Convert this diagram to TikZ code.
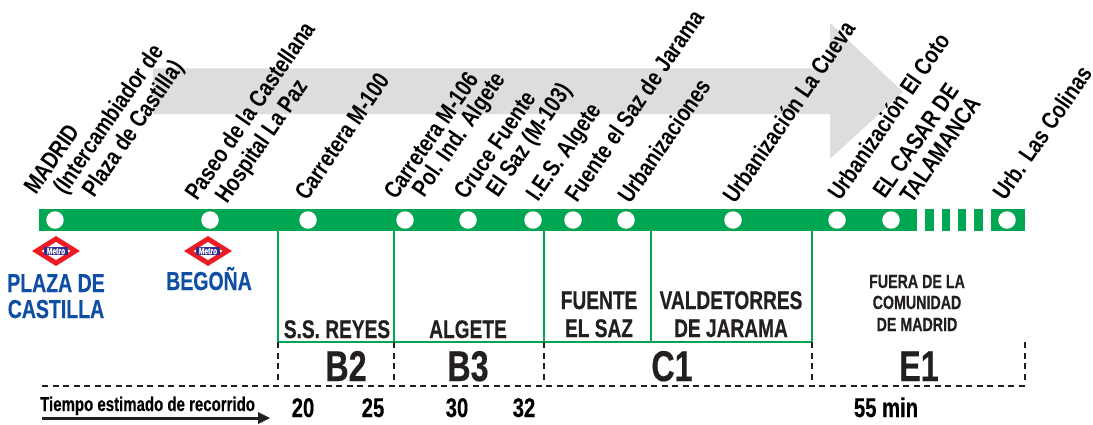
\documentclass[tikz,border=0pt]{standalone}
\usepackage{fontspec}
\setmainfont{Liberation Sans}
\newfontfamily\rotf[FakeStretch=0.81]{Liberation Sans Bold}
\newfontfamily\condf[FakeStretch=0.75,FakeBold=0.4]{Liberation Sans Bold}
\definecolor{lineg}{HTML}{00A651}
\definecolor{arrowg}{HTML}{DCDDDE}
\definecolor{ink}{HTML}{231F20}
\definecolor{stnblue}{HTML}{0F4FA3}
\definecolor{metrored}{HTML}{ED1C24}
\definecolor{metroblue}{HTML}{2E3192}
\tikzset{
  x=1pt,y=-1pt,
  stop/.style={circle,fill=white,draw=none,minimum size=17.5pt,inner sep=0pt},
  lbl/.style={anchor=base west,rotate=55.5,inner sep=0pt,font=\rotf\fontsize{24}{26}\selectfont,text=black},
  zone/.style={anchor=base,inner sep=0pt,font=\condf\fontsize{25.5}{28}\selectfont,text=ink},
  smallzone/.style={anchor=base,inner sep=0pt,font=\condf\fontsize{19}{22}\selectfont,text=ink},
  code/.style={anchor=base,inner sep=0pt,font=\condf\fontsize{43}{46}\selectfont,text=ink},
  tnum/.style={anchor=base,inner sep=0pt,font=\condf\fontsize{27}{29}\selectfont,text=black},
  station/.style={anchor=base,inner sep=0pt,font=\condf\fontsize{26}{28}\selectfont,text=stnblue},
  bound/.style={draw=lineg,line width=2.4pt},
  dashb/.style={draw=ink,line width=2pt,dash pattern=on 6pt off 4.5pt},
  seg/.style={fill=lineg,draw=none},
  metrotxt/.style={fill=metroblue,text=white,inner sep=0pt,minimum width=24pt,minimum height=8.5pt,font=\condf\fontsize{9}{9}\selectfont},
}
\newcommand{\metrologo}[3]{%
  \fill[metrored] (#1-24,#2) -- (#1,#2-15) -- (#1+24,#2) -- (#1,#2+15) -- cycle;
  \fill[white] (#1-14.5,#2) -- (#1,#2-9) -- (#1+14.5,#2) -- (#1,#2+9) -- cycle;
  \node[metrotxt] (#3) at (#1,#2) {Metro};}
\begin{document}
\begin{tikzpicture}
\useasboundingbox (0,0) rectangle (1093,424);
% grey arrow
\fill[arrowg] (153,68.3) -- (830,68.3) -- (830,23) -- (903,92) -- (830,159) -- (830,114) -- (153,114) -- cycle;
% line
\fill[seg] (39,209) rectangle (917,231);
\foreach \a/\b in {925/934,942/950,958/966,974/983,991/1025}{\fill[seg] (\a,209) rectangle (\b,231);}
% stops
\foreach \n/\x in {a/55,b/210,c/308,d/405,e/468,f/533,g/573,h/626,i/733,j/837,k/891,l/1007}{\node[stop] (s\n) at (\x,220) {};}
% labels
\node[lbl] (t1) at (36,196) {MADRID};
\node[lbl] (t2) at (65,196) {(Intercambiador de};
\node[lbl] (t3) at (94,198.5) {Plaza de Castilla)};
\node[lbl] (t4) at (197,202) {Paseo de la Castellana};
\node[lbl] (t5) at (227,205) {Hospital La Paz};
\node[lbl] (t6) at (307,202) {Carretera M-100};
\node[lbl] (t7) at (396,201) {Carretera M-106};
\node[lbl] (t8) at (424,198.5) {Pol. Ind. Algete};
\node[lbl] (t9) at (466,201) {Cruce Fuente};
\node[lbl] (t10) at (498,198.5) {El Saz (M-103)};
\node[lbl] (t11) at (538,203) {I.E.S. Algete};
\node[lbl] (t12) at (577,204) {Fuente el Saz de Jarama};
\node[lbl] (t13) at (630,205) {Urbanizaciones};
\node[lbl] (t14) at (735,205) {Urbanización La Cueva};
\node[lbl] (t15) at (840,202) {Urbanización El Coto};
\node[lbl] (t16) at (885,200) {EL CASAR DE};
\node[lbl] (t17) at (912,205) {TALAMANCA};
\node[lbl] (t18) at (1005,202) {Urb. Las Colinas};
% metro
\metrologo{56}{251}{m1}
\metrologo{208}{251}{m2}
\node[station,align=center] (p1) at (56,292) {PLAZA DE};
\node[station] (p2) at (56,318) {CASTILLA};
\node[station] (p3) at (209,290) {BEGOÑA};
% zone bounds
\coordinate (z1t) at (278,231); \coordinate (z1b) at (278,342); \coordinate (z1d) at (278,382);
\coordinate (z2t) at (394,231); \coordinate (z2b) at (394,342); \coordinate (z2d) at (394,382);
\coordinate (z3t) at (544,231); \coordinate (z3b) at (544,342); \coordinate (z3d) at (544,382);
\coordinate (z4t) at (651,231); \coordinate (z4b) at (651,342);
\coordinate (z5t) at (812,231); \coordinate (z5b) at (812,342); \coordinate (z5d) at (812,382);
\coordinate (z6b) at (1025,342); \coordinate (z6d) at (1025,382);
\coordinate (hl) at (42,386); \coordinate (hr) at (1027,386);
\foreach \n in {1,2,3,4,5}{\draw[bound] (z\n t) -- (z\n b);}
\draw[bound] (277,342) -- (813,342);
\foreach \n in {1,2,3,5,6}{\draw[dashb] (z\n b) -- (z\n d);}
\draw[dashb] (hl) -- (hr);
% zone names
\node[zone] (n1) at (337,338) {S.S. REYES};
\node[zone] (n2) at (468,338) {ALGETE};
\node[zone] (n3) at (599,309) {FUENTE};
\node[zone] (n4) at (599,337) {EL SAZ};
\node[zone] (n5) at (731,309) {VALDETORRES};
\node[zone] (n6) at (731,337) {DE JARAMA};
\node[smallzone] (n7) at (917,288) {FUERA DE LA};
\node[smallzone] (n8) at (917,309) {COMUNIDAD};
\node[smallzone] (n9) at (917,331) {DE MADRID};
\node[code] (c1) at (346,381) {B2};
\node[code] (c2) at (468,381) {B3};
\node[code] (c3) at (672,381) {C1};
\node[code] (c4) at (919,381) {E1};
% times
\node[anchor=base west,inner sep=0pt,font=\condf\fontsize{20}{22}\selectfont] (tt) at (40,411) {Tiempo estimado de recorrido};
\node[tnum] (v1) at (303,417) {20};
\node[tnum] (v2) at (373,417) {25};
\node[tnum] (v3) at (457,417) {30};
\node[tnum] (v4) at (524,417) {32};
\node[tnum] (v5) at (886,417) {55 min};
\coordinate (al) at (42,418); \coordinate (ar) at (259,418);
\draw[draw=ink,line width=3pt] (al) -- (ar);
\fill[ink] (258,412) -- (270,418) -- (258,424) -- cycle;
\end{tikzpicture}
\end{document}
